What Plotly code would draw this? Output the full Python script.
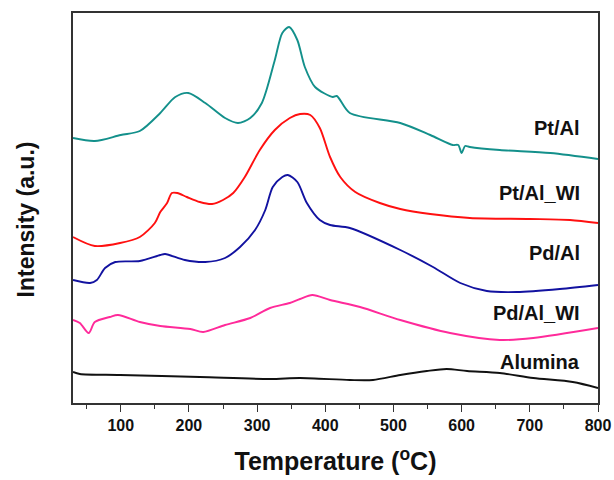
import plotly.graph_objects as go

# Temperature-programmed profiles, stacked with vertical offsets (a.u.)
pt_al_T = [30, 62, 100, 128, 158, 180, 199, 224, 253, 272, 290, 307, 326, 337, 347,
           359, 370, 385, 411, 417, 436, 510, 554, 587, 595, 600, 605, 612, 656, 730, 800]
pt_al_I = [265, 262, 268, 272, 290, 306, 310, 300, 285, 280, 285, 300, 343, 370, 376,
           363, 336, 316, 306, 307, 290, 280, 268, 258, 258, 250, 257, 256, 253, 250, 244]

pt_al_wi_T = [30, 62, 99, 128, 150, 158, 168, 175, 183, 197, 216, 234, 250, 265, 282,
              304, 326, 348, 363, 378, 392, 407, 422, 444, 480, 510, 554, 612, 700, 759, 800]
pt_al_wi_I = [166, 157, 160, 166, 180, 191, 200, 210, 210, 206, 201, 199, 203, 210, 226,
              253, 273, 285, 289, 288, 275, 246, 226, 211, 200, 194, 189, 185, 184, 183, 180]

pd_al_T = [30, 55, 65, 77, 92, 128, 158, 165, 194, 224, 253, 275, 297, 312, 323, 337,
           345, 359, 373, 392, 407, 436, 510, 558, 598, 637, 681, 744, 800]
pd_al_I = [123, 120, 123, 135, 141, 142, 148, 149, 143, 141, 145, 156, 173, 193, 216, 226,
           228, 221, 200, 183, 178, 175, 153, 136, 120, 112, 111, 114, 118]

pd_al_wi_T = [30, 40, 53, 62, 84, 96, 128, 158, 202, 221, 253, 290, 319, 348, 363, 381,
              407, 451, 510, 583, 656, 705, 800]
pd_al_wi_I = [83, 80, 70, 81, 86, 88, 81, 77, 74, 71, 78, 85, 95, 100, 104, 108,
              103, 96, 83, 70, 63, 65, 75]

alumina_T = [30, 40, 99, 216, 319, 363, 436, 470, 510, 549, 578, 608, 656, 705, 763, 800]
alumina_I = [31, 29, 28, 26, 24, 25, 23, 23, 28, 32, 34, 32, 30, 25, 21, 15]

series = [
    ("Pt/Al", pt_al_T, pt_al_I, "#13908B", 275),
    ("Pt/Al_WI", pt_al_wi_T, pt_al_wi_I, "#FF1010", 210),
    ("Pd/Al", pd_al_T, pd_al_I, "#1212A0", 150),
    ("Pd/Al_WI", pd_al_wi_T, pd_al_wi_I, "#FF2A9A", 90),
    ("Alumina", alumina_T, alumina_I, "#111111", 41),
]

label_x = 776
bold_font = "Liberation Sans, Arial"

fig = go.Figure()
for name, t, i, color, _ in series:
    fig.add_trace(go.Scatter(
        x=t, y=i, mode="lines", name=name,
        line=dict(color=color, width=1.9, shape="spline", smoothing=0.8),
        showlegend=False,
    ))

for name, _, _, _, ly in series:
    fig.add_annotation(
        x=label_x, y=ly, text=name, showarrow=False,
        xanchor="right", yanchor="middle",
        font=dict(family=bold_font, size=20, color="#111111", weight="bold"),
    )

# Vertical axis title placed beside the frame
fig.add_annotation(
    xref="paper", yref="paper", x=-0.09, y=0.47,
    text="Intensity (a.u.)", textangle=-90, showarrow=False,
    xanchor="center", yanchor="middle",
    font=dict(family=bold_font, size=23, color="#111111", weight="bold"),
)

fig.update_layout(
    width=614, height=480,
    margin=dict(l=73, r=16, t=13, b=77, autoexpand=False),
    paper_bgcolor="white", plot_bgcolor="white",
    font=dict(family=bold_font, color="#111111"),
    xaxis=dict(
        range=[30, 800], tick0=0, dtick=100, automargin=False,
        ticks="outside", ticklen=7, tickwidth=1.3, tickcolor="#333333",
        minor=dict(dtick=50, tick0=0, ticks="outside", ticklen=4, tickwidth=1.2, tickcolor="#333333"),
        showgrid=False, zeroline=False,
        showline=True, mirror=True, linecolor="#333333", linewidth=1.5,
        tickfont=dict(size=16, weight="bold", color="#111111"),
        title=dict(text="Temperature (<sup>o</sup>C)", standoff=20,
                   font=dict(size=25, weight="bold", color="#111111")),
    ),
    yaxis=dict(
        range=[0, 390], showticklabels=False, ticks="", automargin=False,
        showgrid=False, zeroline=False,
        showline=True, mirror=True, linecolor="#333333", linewidth=1.5,
    ),
)

fig.write_html("out.html")
